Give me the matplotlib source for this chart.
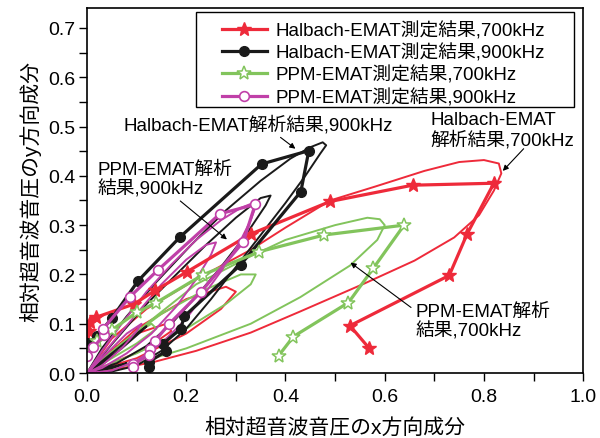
import matplotlib
matplotlib.use("Agg")
import matplotlib.pyplot as plt
from matplotlib.ticker import MultipleLocator
from matplotlib.patches import Rectangle

plt.rcParams['font.family'] = ['Liberation Sans', 'Noto Sans CJK JP', 'DejaVu Sans']

# measured (markers)
h700_x = [0.0, 0.004, 0.006, 0.018, 0.095, 0.138, 0.201, 0.33, 0.49, 0.656, 0.82, 0.766, 0.73, 0.53, 0.568]
h700_y = [0.045, 0.085, 0.104, 0.113, 0.14, 0.168, 0.205, 0.282, 0.348, 0.381, 0.385, 0.282, 0.198, 0.096, 0.051]
h900_x = [0.0, 0.02, 0.05, 0.103, 0.1875, 0.352, 0.447, 0.431, 0.31, 0.196, 0.189, 0.153, 0.16, 0.124, 0.124]
h900_y = [0.06, 0.075, 0.111, 0.187, 0.276, 0.424, 0.451, 0.368, 0.22, 0.115, 0.09, 0.059, 0.045, 0.022, 0.012]
p700_x = [0.0, 0.02, 0.051, 0.1, 0.14, 0.233, 0.347, 0.478, 0.639, 0.577, 0.527, 0.416, 0.386]
p700_y = [0.04, 0.065, 0.088, 0.123, 0.143, 0.199, 0.246, 0.28, 0.30, 0.2125, 0.143, 0.074, 0.035]
p900_x = [0.0, 0.013, 0.035, 0.032, 0.087, 0.143, 0.268, 0.339, 0.315, 0.23, 0.165, 0.137, 0.127, 0.125, 0.093, 0.093]
p900_y = [0.035, 0.052, 0.078, 0.089, 0.155, 0.209, 0.323, 0.342, 0.266, 0.165, 0.099, 0.065, 0.049, 0.036, 0.018, 0.013]

# analysis (thin loops)
h700c_x = [0, 0.06, 0.133, 0.22, 0.33, 0.43, 0.56, 0.66, 0.74, 0.79, 0.82, 0.835, 0.83, 0.80, 0.75, 0.68, 0.58, 0.49, 0.40, 0.33, 0.22, 0.12, 0.05, 0,
           0.1, 0.2, 0.27, 0.30, 0.28, 0.2, 0.1, 0,
           0.05, 0.12, 0.17, 0.16, 0.1, 0.04, 0]
h700c_y = [0, 0.008, 0.022, 0.045, 0.082, 0.125, 0.182, 0.228, 0.275, 0.32, 0.37, 0.405, 0.425, 0.432, 0.428, 0.41, 0.378, 0.35, 0.295, 0.25, 0.19, 0.13, 0.07, 0,
           0.03, 0.08, 0.13, 0.165, 0.175, 0.15, 0.09, 0,
           0.02, 0.05, 0.085, 0.1, 0.08, 0.04, 0]
h900c_x = [0, 0.03, 0.08, 0.14, 0.21, 0.28, 0.35, 0.41, 0.45, 0.475, 0.482, 0.47, 0.44, 0.40, 0.35, 0.30, 0.25, 0.2, 0.15, 0.1, 0.05, 0,
           0.06, 0.12, 0.18, 0.24, 0.30, 0.35, 0.37, 0.36, 0.32, 0.27, 0.22, 0.17, 0.12, 0.06, 0,
           0.05, 0.1, 0.12, 0.11, 0.07, 0.03, 0,
           0.05, 0.08, 0.06, 0]
h900c_y = [0, 0.05, 0.115, 0.185, 0.26, 0.33, 0.39, 0.435, 0.458, 0.468, 0.462, 0.445, 0.40, 0.345, 0.28, 0.215, 0.15, 0.09, 0.045, 0.015, 0.003, 0,
           0.07, 0.14, 0.2, 0.26, 0.315, 0.355, 0.36, 0.34, 0.28, 0.215, 0.155, 0.1, 0.055, 0.02, 0,
           0.04, 0.08, 0.095, 0.085, 0.05, 0.02, 0,
           0.01, 0.02, 0.015, 0]
p700c_x = [0, 0.1, 0.2, 0.33, 0.43, 0.53, 0.585, 0.6, 0.59, 0.565, 0.5, 0.4, 0.33, 0.22, 0.12, 0.05, 0,
           0.1, 0.2, 0.28, 0.33, 0.34, 0.31, 0.24, 0.15, 0.07, 0,
           0.05, 0.1, 0.14, 0.13, 0.09, 0.04, 0]
p700c_y = [0, 0.02, 0.05, 0.1, 0.154, 0.218, 0.27, 0.3, 0.312, 0.315, 0.30, 0.27, 0.237, 0.18, 0.1, 0.04, 0,
           0.04, 0.09, 0.14, 0.18, 0.2, 0.2, 0.17, 0.12, 0.06, 0,
           0.03, 0.06, 0.09, 0.1, 0.075, 0.035, 0]
p900c_x = [0, 0.03, 0.07, 0.12, 0.17, 0.22, 0.27, 0.31, 0.335, 0.34, 0.33, 0.31, 0.28, 0.24, 0.2, 0.15, 0.1, 0.05, 0,
           0.05, 0.1, 0.15, 0.2, 0.24, 0.26, 0.25, 0.22, 0.18, 0.13, 0.08, 0.03, 0,
           0.04, 0.08, 0.11, 0.1, 0.07, 0.03, 0]
p900c_y = [0, 0.045, 0.1, 0.165, 0.22, 0.27, 0.31, 0.335, 0.345, 0.338, 0.31, 0.27, 0.22, 0.165, 0.11, 0.06, 0.025, 0.005, 0,
           0.06, 0.12, 0.18, 0.23, 0.26, 0.265, 0.24, 0.19, 0.135, 0.08, 0.04, 0.01, 0,
           0.04, 0.08, 0.1, 0.085, 0.05, 0.015, 0]

red = '#ee2a3a'
black = '#1a1a1a'
green = '#82c45c'
magenta = '#c040a8'
fs = 13.5

fig = plt.figure(figsize=(6, 4.39), dpi=100)
ax = fig.add_axes([0.145, 0.148, 0.827, 0.831])

ax.plot(h700c_x, h700c_y, color=red, lw=1.4)
ax.plot(p700c_x, p700c_y, color=green, lw=1.4)
ax.plot(h900c_x, h900c_y, color=black, lw=1.4)
ax.plot(p900c_x, p900c_y, color=magenta, lw=1.4)

ax.plot(h700_x, h700_y, color=red, lw=2.3, marker='*', ms=10, label='Halbach-EMAT測定結果,700kHz')
ax.plot(h900_x, h900_y, color=black, lw=2.3, marker='o', ms=7, label='Halbach-EMAT測定結果,900kHz')
ax.plot(p700_x, p700_y, color=green, lw=2.3, marker='*', ms=10, mfc='white', mec=green, mew=1.1,
        label='PPM-EMAT測定結果,700kHz')
ax.plot(p900_x, p900_y, color=magenta, lw=2.3, marker='o', ms=7, mfc='white', mec=magenta, mew=1.2,
        label='PPM-EMAT測定結果,900kHz')

ax.set_xlim(0, 1.0)
ax.set_ylim(0, 0.74)
ax.xaxis.set_major_locator(MultipleLocator(0.2))
ax.xaxis.set_minor_locator(MultipleLocator(0.1))
ax.yaxis.set_major_locator(MultipleLocator(0.1))
ax.yaxis.set_minor_locator(MultipleLocator(0.05))
ax.xaxis.set_major_formatter(plt.FormatStrFormatter('%.1f'))
ax.yaxis.set_major_formatter(plt.FormatStrFormatter('%.1f'))
ax.tick_params(which='both', direction='out', length=6, width=1, labelsize=14)
ax.tick_params(axis='y', pad=2.5)
ax.tick_params(axis='x', pad=5)
for s in ax.spines.values():
    s.set_linewidth(1.2)

ax.set_xlabel('相対超音波音圧のx方向成分', fontsize=15, labelpad=8)
ax.set_ylabel('相対超音波音圧のy方向成分', fontsize=15, labelpad=5)

leg = ax.legend(loc='upper left', bbox_to_anchor=(0.272, 0.965), fontsize=fs, frameon=False,
                handlelength=2.4, labelspacing=0.22, borderpad=0, borderaxespad=0,
                handletextpad=0.45)
ax.add_patch(Rectangle((0.22, 0.729), 0.762, 0.261, transform=ax.transAxes, fill=False,
                       edgecolor='black', lw=1.0, zorder=5))

ax.text(0.073, 0.504, 'Halbach-EMAT解析結果,900kHz', fontsize=fs, va='center')
ax.text(0.022, 0.393, 'PPM-EMAT解析\n結果,900kHz', fontsize=fs, va='center', linespacing=1.1)
ax.text(0.693, 0.494, 'Halbach-EMAT\n解析結果,700kHz', fontsize=fs, va='center', linespacing=1.1)
ax.text(0.663, 0.105, 'PPM-EMAT解析\n結果,700kHz', fontsize=fs, va='center', linespacing=1.1)

arw = dict(arrowstyle='-|>', color='black', lw=0.8, mutation_scale=8, shrinkA=0, shrinkB=0)
ax.annotate('', xy=(0.42, 0.455), xytext=(0.39, 0.478), arrowprops=arw)
ax.annotate('', xy=(0.282, 0.271), xytext=(0.188, 0.349), arrowprops=arw)
ax.annotate('', xy=(0.838, 0.41), xytext=(0.88, 0.455), arrowprops=arw)
ax.annotate('', xy=(0.531, 0.224), xytext=(0.653, 0.133), arrowprops=arw)

fig.savefig('out.png', dpi=100)
